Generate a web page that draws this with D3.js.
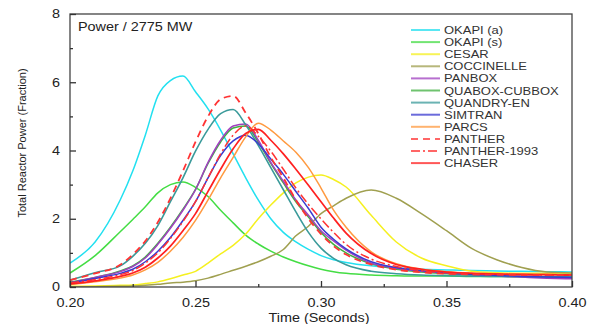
<!DOCTYPE html>
<html><head><meta charset="utf-8">
<script src="https://cdn.jsdelivr.net/npm/d3@7"></script>
<style>body{margin:0;background:#fff}svg{display:block}text{font-family:"Liberation Sans",Arial,sans-serif}</style>
</head><body><svg id="c" width="590" height="324"></svg>
<script>
const times = [0.200,0.210,0.220,0.225,0.230,0.235,0.240,0.245,0.250,0.255,0.260,0.265,0.270,0.275,0.280,0.285,0.290,0.295,0.300,0.305,0.310,0.320,0.330,0.340,0.350,0.360,0.370,0.380,0.390,0.400];
const seriesNames = ["OKAPI (a)","OKAPI (s)","CESAR","COCCINELLE","PANBOX","QUABOX-CUBBOX","QUANDRY-EN","SIMTRAN","PARCS","PANTHER","PANTHER-1993","CHASER"];
const okapiA   = [0.70,1.32,2.55,3.40,4.45,5.60,6.05,6.18,5.72,5.22,4.60,3.90,3.20,2.55,2.00,1.60,1.32,1.10,0.92,0.80,0.72,0.62,0.56,0.52,0.50,0.48,0.47,0.46,0.45,0.44];
const okapiS   = [0.41,0.92,1.62,1.98,2.35,2.76,3.00,3.08,2.92,2.65,2.25,1.88,1.52,1.26,1.05,0.88,0.74,0.62,0.52,0.45,0.40,0.35,0.33,0.32,0.32,0.31,0.31,0.31,0.31,0.31];
const cesar    = [0.02,0.03,0.05,0.06,0.10,0.15,0.24,0.35,0.46,0.70,0.97,1.22,1.55,2.00,2.40,2.76,3.05,3.22,3.28,3.15,2.93,2.10,1.32,0.85,0.62,0.46,0.42,0.40,0.40,0.40];
const cocci    = [0.00,0.01,0.02,0.03,0.05,0.08,0.12,0.14,0.18,0.26,0.37,0.49,0.61,0.74,0.90,1.10,1.50,1.78,2.15,2.38,2.60,2.84,2.60,2.15,1.65,1.13,0.80,0.57,0.44,0.41];
const panbox   = [0.12,0.28,0.45,0.60,0.85,1.25,1.72,2.25,2.85,3.65,4.30,4.72,4.78,4.30,3.65,3.10,2.55,2.10,1.65,1.35,1.08,0.70,0.55,0.46,0.41,0.36,0.32,0.29,0.26,0.24];
const quabox   = [0.14,0.28,0.47,0.62,0.88,1.28,1.75,2.28,2.86,3.62,4.25,4.66,4.72,4.25,3.62,3.05,2.50,2.05,1.60,1.25,1.00,0.68,0.52,0.44,0.39,0.35,0.32,0.30,0.29,0.28];
const quandry  = [0.20,0.42,0.62,0.90,1.28,1.80,2.50,3.20,3.98,4.62,5.08,5.20,4.75,4.15,3.50,2.85,2.20,1.60,1.14,0.84,0.65,0.46,0.39,0.35,0.33,0.32,0.31,0.31,0.30,0.30];
const simtran  = [0.12,0.25,0.40,0.52,0.74,1.05,1.45,1.95,2.50,3.20,3.85,4.28,4.45,4.20,3.75,3.30,2.80,2.30,1.75,1.40,1.12,0.74,0.57,0.48,0.42,0.37,0.34,0.31,0.29,0.28];
const parcs    = [0.07,0.15,0.26,0.35,0.50,0.72,1.05,1.45,1.95,2.55,3.20,3.80,4.40,4.80,4.60,4.28,3.95,3.50,2.90,2.25,1.75,1.03,0.68,0.52,0.45,0.41,0.39,0.38,0.37,0.36];
const panther  = [0.20,0.40,0.65,0.95,1.35,1.90,2.60,3.40,4.25,5.00,5.50,5.60,5.10,4.50,3.80,3.20,2.55,2.00,1.55,1.20,0.95,0.66,0.51,0.43,0.39,0.37,0.36,0.35,0.35,0.35];
const panther93= [0.12,0.22,0.36,0.48,0.70,1.00,1.42,1.92,2.50,3.20,3.90,4.45,4.72,4.42,3.98,3.45,2.90,2.42,2.00,1.60,1.25,0.82,0.60,0.48,0.42,0.39,0.37,0.36,0.35,0.35];
const chaser   = [0.09,0.18,0.31,0.41,0.58,0.85,1.20,1.65,2.15,2.80,3.45,4.05,4.50,4.62,4.30,3.90,3.45,2.98,2.50,2.02,1.58,0.98,0.66,0.52,0.44,0.40,0.38,0.37,0.36,0.35];
const xTicks = [0.20,0.25,0.30,0.35,0.40];
const xMinor = [0.225,0.275,0.325,0.375];
const yTicks = [0,2,4,6,8];
const yMinor = [1,3,5,7];
const titleText = "Power / 2775 MW";
const xTitle = "Time (Seconds)";
const yTitle = "Total Reactor Power (Fraction)";

const seriesValues = [okapiA,okapiS,cesar,cocci,panbox,quabox,quandry,simtran,parcs,panther,panther93,chaser];
const colors = ["#22e0f0","#44dd44","#f5f020","#a0a050","#a040c0","#40b040","#3a9a9a","#3a3ad0","#ff9a40","#ff3333","#ff3333","#ff2020"];
const dashes = [null,null,null,null,null,null,null,null,null,"7,5","9,3,2,3",null];
const widths = [1.5,1.5,1.5,1.5,1.5,1.5,1.6,1.5,1.5,1.8,1.5,1.7];
const drawOrder = [0,1,2,3,5,4,6,7,8,10,11,9];

const svg = d3.select("#c");
const L=70,R=572,T=14,B=287;
const x = d3.scaleLinear().domain([0.20,0.40]).range([L,R]);
const y = d3.scaleLinear().domain([0,8]).range([B,T]);

function stretch(sel,k){ sel.each(function(){ const w=this.getComputedTextLength(); d3.select(this).attr("textLength",w*k).attr("lengthAdjust","spacingAndGlyphs"); }); }

const g = svg.append("g");
svg.append("clipPath").attr("id","pc").append("rect").attr("x",L).attr("y",T).attr("width",R-L).attr("height",B-T);
const lines = g.append("g").attr("clip-path","url(#pc)");
const line = d3.line().x((d,i)=>x(times[i])).y(d=>y(d)).curve(d3.curveMonotoneX);
drawOrder.forEach(i=>{
  lines.append("path").attr("d",line(seriesValues[i])).attr("fill","none")
    .attr("stroke",colors[i]).attr("stroke-width",widths[i])
    .attr("stroke-dasharray",dashes[i]).attr("stroke-linejoin","round");
});

// frame
g.append("rect").attr("x",L).attr("y",T).attr("width",R-L).attr("height",B-T)
  .attr("fill","none").attr("stroke","#444").attr("stroke-width",1.3);

// axes (ticks inward)
const xa = g.append("g").attr("transform",`translate(0,${B})`)
  .call(d3.axisBottom(x).tickValues(xTicks).tickSize(-6).tickPadding(11).tickFormat(d3.format(".2f")));
const xm = g.append("g").attr("transform",`translate(0,${B})`)
  .call(d3.axisBottom(x).tickValues(xMinor).tickSize(-3).tickFormat(""));
const ya = g.append("g").attr("transform",`translate(${L},0)`)
  .call(d3.axisLeft(y).tickValues(yTicks).tickSize(-6).tickPadding(10).tickFormat(d3.format("d")));
const ym = g.append("g").attr("transform",`translate(${L},0)`)
  .call(d3.axisLeft(y).tickValues(yMinor).tickSize(-3).tickFormat(""));
[xa,xm,ya,ym].forEach(a=>{ a.select(".domain").remove(); a.selectAll("line").attr("stroke","#333").attr("stroke-width",1.3); });
[xa,ya].forEach(a=>a.selectAll("text").attr("font-size",12).attr("fill","#222").style("font-family","Liberation Sans, Arial, sans-serif"));
stretch(xa.selectAll("text"),1.2);
stretch(ya.selectAll("text"),1.2);

// titles
const t1 = g.append("text").attr("x",78).attr("y",31).attr("font-size",12).attr("fill","#222").text(titleText);
stretch(t1,1.2);
const tx = g.append("text").attr("x",(L+R)/2-2).attr("y",322).attr("text-anchor","middle").attr("font-size",12).attr("fill","#222").text(xTitle);
stretch(tx,1.2);
g.append("text").attr("transform","translate(26,143) rotate(-90)").attr("text-anchor","middle").attr("font-size",11).attr("fill","#222").text(yTitle);

// legend
const lg = g.append("g");
seriesNames.forEach((n,i)=>{
  const yy = 30 + i*12.1;
  lg.append("line").attr("x1",411).attr("x2",440).attr("y1",yy).attr("y2",yy)
    .attr("stroke",colors[i]).attr("stroke-width",2).attr("stroke-dasharray",dashes[i]).attr("opacity",0.75);
  const t = lg.append("text").attr("x",444).attr("y",yy+4).attr("font-size",11).attr("fill","#333").text(n);
  stretch(t,1.18);
});
</script></body></html>
